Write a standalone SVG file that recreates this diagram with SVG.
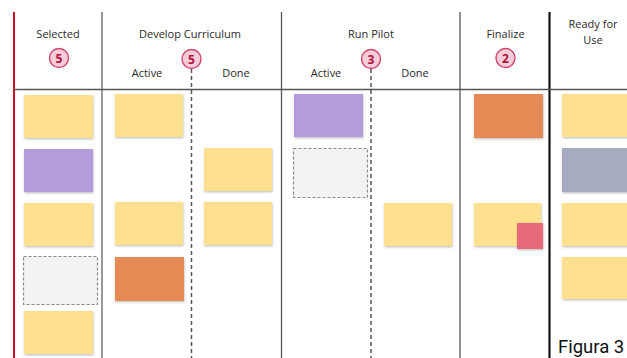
<svg xmlns="http://www.w3.org/2000/svg" width="627" height="358" viewBox="0 0 627 358">
<style>
.h{font-family:"Open Sans","Liberation Sans",sans-serif;font-size:11px;fill:#2a2a2a;text-anchor:middle}
.n{font-family:"Open Sans","Liberation Sans",sans-serif;font-size:12px;font-weight:bold;fill:#b0103a;text-anchor:middle}
.c{fill:#f7cdd9;stroke:#d2456c;stroke-width:1.4}
.y{fill:#fee08f}
.p{fill:#b49bd9}
.o{fill:#e68a55}
.g{fill:#a6abbf}
.r{fill:#e66a77}
.e{fill:#f3f3f3;stroke:#888;stroke-width:1.2;stroke-dasharray:3 2}
.s{filter:url(#sh)}
.dl{stroke:#555;stroke-width:1.5;stroke-dasharray:4 3}
</style>
<defs>
<filter id="sh" x="-10%" y="-10%" width="125%" height="130%">
<feDropShadow dx="0.5" dy="1.2" stdDeviation="0.8" flood-color="#000" flood-opacity="0.25"/>
</filter>
</defs>
<rect width="627" height="358" fill="#fff"/>
<g id="grid">
<line x1="14" y1="12" x2="14" y2="358" stroke="#c8102e" stroke-width="2"/>
<line x1="102" y1="12" x2="102" y2="358" stroke="#777" stroke-width="1.5"/>
<line x1="281.5" y1="12" x2="281.5" y2="358" stroke="#555" stroke-width="1.3"/>
<line x1="460" y1="12" x2="460" y2="358" stroke="#555" stroke-width="1.3"/>
<line x1="549.5" y1="12" x2="549.5" y2="358" stroke="#111" stroke-width="2.2"/>
<line x1="14" y1="89.5" x2="627" y2="89.5" stroke="#555" stroke-width="1.5"/>
<line class="dl" x1="191.5" y1="69" x2="191.5" y2="358"/>
<line class="dl" x1="371" y1="69" x2="371" y2="358"/>
</g>
<g id="col-selected">
<text class="h" x="58" y="38">Selected</text>
<circle class="c" cx="59" cy="58" r="9.5"/><text class="n" x="59" y="62.5">5</text>
</g>
<g id="col-develop">
<text class="h" x="190" y="38">Develop Curriculum</text>
<circle class="c" cx="191.5" cy="59" r="9.5"/><text class="n" x="191.5" y="63.5">5</text>
<text class="h" x="147" y="77">Active</text>
<text class="h" x="236" y="77">Done</text>
</g>
<g id="col-run">
<text class="h" x="371" y="38">Run Pilot</text>
<circle class="c" cx="371" cy="59" r="9.5"/><text class="n" x="371" y="63.5">3</text>
<text class="h" x="326" y="77">Active</text>
<text class="h" x="415" y="77">Done</text>
</g>
<g id="col-finalize">
<text class="h" x="505.5" y="38">Finalize</text>
<circle class="c" cx="505.5" cy="58" r="9.5"/><text class="n" x="505.5" y="62.5">2</text>
</g>
<g id="col-ready">
<text class="h" x="593" y="28">Ready for</text>
<text class="h" x="593" y="44">Use</text>
</g>
<g id="stickies">
<rect class="y s" x="24" y="95" width="69" height="43"/>
<rect class="p s" x="24" y="149" width="69" height="43"/>
<rect class="y s" x="24" y="203" width="69" height="43"/>
<rect class="e" x="23.5" y="256.5" width="74" height="48"/>
<rect class="y s" x="24" y="311" width="69" height="43"/>
<rect class="y s" x="115" y="94" width="68" height="43"/>
<rect class="y s" x="115" y="202" width="68" height="43"/>
<rect class="o s" x="115" y="257" width="69" height="44"/>
<rect class="y s" x="204" y="148" width="68" height="43"/>
<rect class="y s" x="204" y="202" width="68" height="43"/>
<rect class="p s" x="294" y="94" width="69" height="43"/>
<rect class="e" x="293.5" y="148.5" width="74" height="49"/>
<rect class="y s" x="384" y="203" width="68" height="43"/>
<rect class="o s" x="474" y="94" width="69" height="44"/>
<rect class="y s" x="474" y="203" width="67" height="43"/>
<rect class="r s" x="517" y="223" width="26" height="26"/>
<rect class="y s" x="562" y="94" width="70" height="43"/>
<rect class="g s" x="562" y="148" width="70" height="44"/>
<rect class="y s" x="562" y="203" width="70" height="43"/>
<rect class="y s" x="562" y="257" width="70" height="42"/>
</g>
<text x="558" y="353" font-family="Roboto,'Liberation Sans',sans-serif" font-size="18.5" fill="#111">Figura 3</text>
</svg>
